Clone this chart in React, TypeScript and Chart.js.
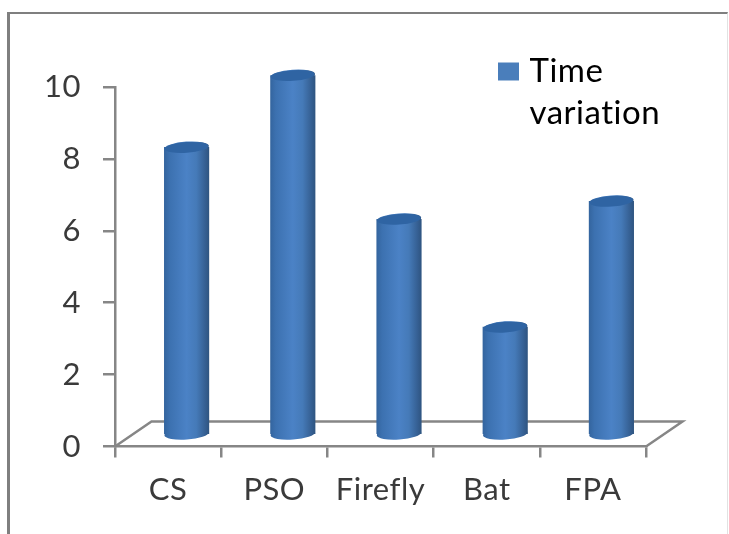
import React, { useEffect, useRef } from "react";
import { Chart, registerables } from "chart.js";

Chart.register(...registerables);

const categories = ["CS", "PSO", "Firefly", "Bat", "FPA"];
const timeVariation = [8, 10, 6, 3, 6.5];
const seriesLabel = "Time variation";
const legendLines = ["Time", "variation"];
const yTicks = [0, 2, 4, 6, 8, 10];

const FONT = "Lato";
const TEXT = "#3a3a3a";
const AXIS = "#868686";
const BLUE = "#4a7ebb";
const DEPTH_X = 36.5;
const DEPTH_Y = -25;
const BAR_SHIFT_X = 18.5;
const BAR_SHIFT_Y = -11.5;
const BAR_W = 44.5;
const RY = 5.8;
const TILT = -0.07;

function bodyGradient(c: CanvasRenderingContext2D, cx: number) {
  const g = c.createLinearGradient(cx - BAR_W / 2, 0, cx + BAR_W / 2, 0);
  g.addColorStop(0, "#34659f");
  g.addColorStop(0.12, "#3c71b0");
  g.addColorStop(0.5, "#4b82c6");
  g.addColorStop(0.72, "#457ab8");
  g.addColorStop(0.92, "#355f92");
  g.addColorStop(1, "#2f5581");
  return g;
}

const cylinderPlugin = {
  id: "cylinder",
  beforeDraw(chart: any) {
    const { ctx, chartArea: a } = chart;
    ctx.letterSpacing = "0.5px";
    ctx.save();
    ctx.strokeStyle = AXIS;
    ctx.lineWidth = 2.5;
    ctx.beginPath();
    ctx.moveTo(a.left, a.bottom);
    ctx.lineTo(a.left + DEPTH_X, a.bottom + DEPTH_Y);
    ctx.lineTo(a.right + DEPTH_X, a.bottom + DEPTH_Y);
    ctx.lineTo(a.right, a.bottom);
    ctx.stroke();
    ctx.restore();
  },
  afterLayout(chart: any) {
    const l = chart.legend;
    if (!l) return;
    l.left = 494;
    l.right = 729;
    l.top = 45;
    l.bottom = 130;
  },
  beforeDatasetsDraw(chart: any) {
    const { ctx } = chart;
    ctx.save();
    ctx.translate(BAR_SHIFT_X, BAR_SHIFT_Y);
    chart.getDatasetMeta(0).data.forEach((el: any) => {
      ctx.fillStyle = bodyGradient(ctx, el.x);
      ctx.beginPath();
      ctx.ellipse(el.x, el.base, BAR_W / 2, RY, TILT, 0, Math.PI * 2);
      ctx.fill();
    });
  },
  afterDatasetsDraw(chart: any) {
    const { ctx } = chart;
    chart.getDatasetMeta(0).data.forEach((el: any) => {
      ctx.fillStyle = bodyGradient(ctx, el.x);
      ctx.beginPath();
      ctx.ellipse(el.x, el.y, BAR_W / 2, RY, TILT, 0, Math.PI * 2);
      ctx.fill();
      ctx.fillStyle = "#2f64a3";
      ctx.beginPath();
      ctx.ellipse(el.x, el.y, BAR_W / 2 - 0.5, RY - 0.5, TILT, 0, Math.PI * 2);
      ctx.fill();
    });
    ctx.restore();
  },
};

export default function App() {
  const ref = useRef<HTMLCanvasElement | null>(null);
  useEffect(() => {
    if (!ref.current) return;
    const chart = new Chart(ref.current, {
      type: "bar",
      data: {
        labels: categories,
        datasets: [
          {
            label: seriesLabel,
            data: timeVariation,
            barThickness: BAR_W,
            borderWidth: 0,
            clip: false,
            backgroundColor: (c: any) => {
              const x = c.chart.scales.x;
              if (!x || c.dataIndex === undefined) return BLUE;
              return bodyGradient(c.chart.ctx, x.getPixelForValue(c.dataIndex));
            },
          } as any,
        ],
      },
      options: {
        responsive: false,
        animation: false,
        layout: { padding: { left: 0, right: 83, top: 87, bottom: 0 } },
        plugins: {
          tooltip: { enabled: false },
          legend: {
            display: true,
            position: "chartArea" as any,
            align: "start",
            labels: {
              boxWidth: 9,
              boxHeight: 6,
              padding: 10,
              color: TEXT,
              font: { family: FONT, size: 33, lineHeight: 1.27 },
              generateLabels: () => [
                {
                  text: legendLines as any,
                  fillStyle: BLUE,
                  strokeStyle: BLUE,
                  lineWidth: 12,
                  hidden: false,
                  datasetIndex: 0,
                },
              ],
            },
          },
        },
        scales: {
          x: {
            type: "category",
            grid: {
              display: true,
              drawOnChartArea: false,
              drawTicks: true,
              tickLength: 11,
              color: AXIS,
              lineWidth: 2.5,
              offset: true,
            },
            border: { display: true, color: AXIS, width: 2.5 },
            ticks: { color: TEXT, padding: 14, maxRotation: 0, font: { family: FONT, size: 31 } },
            afterFit: (s: any) => {
              s.height = 87.5;
            },
          },
          y: {
            min: 0,
            max: 10,
            afterBuildTicks: (s: any) => {
              s.ticks = yTicks.map((value) => ({ value }));
            },
            grid: {
              display: true,
              drawOnChartArea: false,
              drawTicks: true,
              tickLength: 12,
              color: AXIS,
              lineWidth: 2.5,
            },
            border: { display: true, color: AXIS, width: 2.5 },
            ticks: { color: TEXT, padding: 22, font: { family: FONT, size: 31 } },
            afterFit: (s: any) => {
              s.width = 115;
            },
          },
        },
      },
      plugins: [cylinderPlugin],
    } as any);
    return () => chart.destroy();
  }, []);

  return (
    <div style={{ position: "absolute", left: 0, top: 0, width: 729, height: 534, overflow: "hidden", background: "#fff" }}>
      <div
        style={{
          position: "absolute",
          left: 7,
          top: 12,
          width: 721,
          height: 522,
          boxSizing: "border-box",
          borderLeft: "3px solid #7f7f7f",
          borderTop: "2px solid #7f7f7f",
          borderRight: "1px solid #e2e2e2",
        }}
      />
      <canvas
        ref={ref}
        width={729}
        height={534}
        style={{ position: "absolute", left: 0, top: 0, display: "block", filter: "blur(0.5px)" }}
      />
    </div>
  );
}
